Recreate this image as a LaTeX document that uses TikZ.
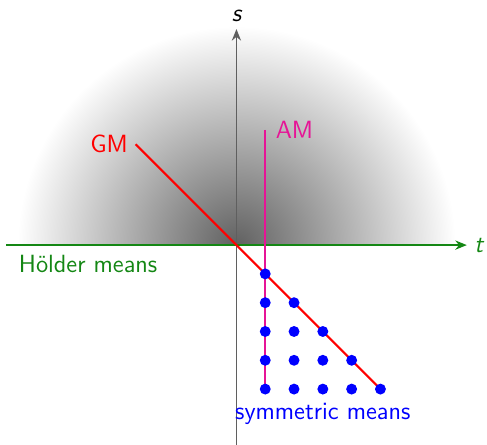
\documentclass[tikz,border=0pt]{standalone}
\usepackage{xcolor}
\usepackage{tikz}
\usetikzlibrary{arrows.meta, positioning}
\definecolor{holdercolor}{RGB}{20, 135, 20}
\definecolor{amcolor}{RGB}{230, 20, 150}
\definecolor{axiscolor}{RGB}{95, 95, 95}

\begin{document}
\begin{tikzpicture}[
    x=0.5cm, y=0.5cm,
    font=\sffamily\fontsize{12.3}{15}\selectfont,
    axis/.style={-{Stealth[length=2mm, width=1.6mm]}, line width=0.75pt},
    meanline/.style={line width=1pt},
    dot/.style={circle, fill=blue, inner sep=0pt, minimum size=5.4pt}
]
\useasboundingbox (-8.21,-6.94) rectangle (8.70,8.51);

% Shaded region
\begin{scope}
\clip (-8,0) rectangle (8,8);
\shade[inner color=black!62, outer color=white] (0,0) circle (7.6);
\end{scope}

% Axes
\coordinate (tstart) at (-8,0);
\coordinate (tend) at (8,0);
\coordinate (sstart) at (0,-6.94);
\coordinate (send) at (0,7.5);
\draw[axis, color=axiscolor] (sstart) -- (send) node[above, color=black] {\itshape s};
\draw[axis, line width=0.9pt, color=holdercolor] (tstart) -- (tend) node[right] {\itshape t};
\node[below right=0.05cm and 0.1cm of tstart, color=holdercolor] (holder) {H\"older means};

% Mean lines
\coordinate (gm) at (-3.5,3.5);
\coordinate (gmend) at (5,-5);
\coordinate (am) at (1,4);
\coordinate (amend) at (1,-5);
\draw[meanline, color=red] (gm) node[left] {GM} -- (gmend);
\draw[meanline, color=amcolor] (am) node[right=0.05cm] {AM} -- (amend);

% Symmetric means
\foreach \j in {1,...,5}
  \foreach \i in {1,...,\j}
    \node[dot] (d\i\j) at (\i,-\j) {};
\node[below=0.02cm of d35, color=blue] (sym) {symmetric means};

\end{tikzpicture}
\end{document}
